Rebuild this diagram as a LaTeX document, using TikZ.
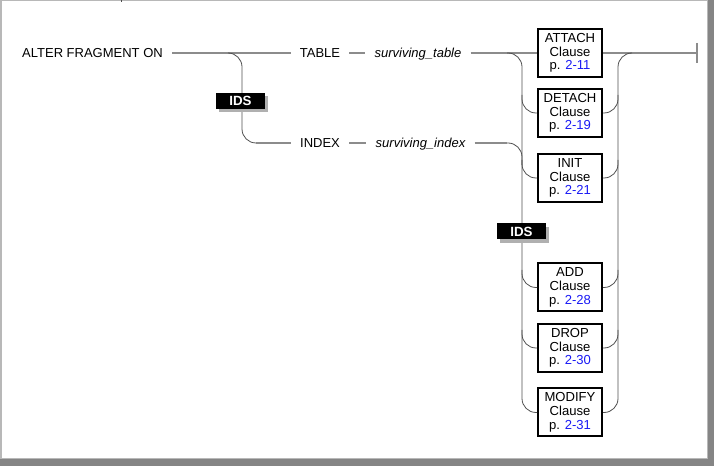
\documentclass[tikz,border=0pt]{standalone}
\usepackage{fontspec}
\setmainfont{Liberation Sans}
\usetikzlibrary{shadows}
\definecolor{lineg}{HTML}{8C8C8C}
\definecolor{curveg}{HTML}{505050}
\definecolor{frameg}{HTML}{858585}
\definecolor{framel}{HTML}{B8B8B8}
\definecolor{linkb}{HTML}{1A1AF5}
\definecolor{shad}{HTML}{B0B0B0}
\begin{document}
\begin{tikzpicture}[x=0.75pt,y=-0.75pt,
 kw/.style={font=\fontsize{9.75pt}{11pt}\selectfont, inner xsep=6.75pt, inner ysep=0pt, text height=7pt, text depth=0pt},
 var/.style={kw, font=\fontsize{9.75pt}{11pt}\selectfont\itshape},
 clause/.style={draw=black, line width=1.5pt, fill=white, minimum width=48pt, minimum height=36pt, inner sep=0pt, align=center, font=\fontsize{9.8pt}{10.3pt}\selectfont},
 hline/.style={draw=lineg, line width=0.9pt},
 branch/.style={draw=curveg, line width=0.6pt, rounded corners=10.5pt},
 ids/.style={fill=black, text=white, font=\fontsize{10pt}{10pt}\selectfont\bfseries, minimum width=36.75pt, minimum height=12pt, inner sep=0pt, drop shadow={shadow xshift=2.4pt, shadow yshift=-2.4pt, fill=shad, opacity=1}}
]
\useasboundingbox (0,0) rectangle (714,466);
% frame
\fill[white] (0,0) rectangle (714,466);
\fill[frameg] (708,0) rectangle (714,466);
\fill[frameg] (0,459) rectangle (714,466);
\draw[framel, line width=1.2pt] (1,0) -- (1,459);
\draw[framel, line width=0.9pt] (0,0.6) -- (708,0.6);
\draw[framel, line width=0.75pt] (707.5,0) -- (707.5,459);
\draw[framel, line width=0.75pt] (0,458.5) -- (708,458.5);
\draw[black!70, line width=0.75pt] (121.5,0) -- (121.5,2.5);

% text nodes
\node[kw] (alter) at (92.5,53) {ALTER FRAGMENT ON};
\node[kw] (table) at (320,53) {TABLE};
\node[var] (stable) at (418,53) {surviving\_table};
\node[kw] (index) at (320,143) {INDEX};
\node[var] (sindex) at (420.5,143) {surviving\_index};

% clause boxes
\node[clause] (attach) at (570,53) {ATTACH\\Clause\\p. \textcolor{linkb}{2-11}};
\node[clause] (detach) at (570,113) {DETACH\\Clause\\p. \textcolor{linkb}{2-19}};
\node[clause] (init) at (570,178) {INIT\\Clause\\p. \textcolor{linkb}{2-21}};
\node[clause] (add) at (570,287.5) {ADD\\Clause\\p. \textcolor{linkb}{2-28}};
\node[clause] (drop) at (570,348) {DROP\\Clause\\p. \textcolor{linkb}{2-30}};
\node[clause] (modify) at (570,412.5) {MODIFY\\Clause\\p. \textcolor{linkb}{2-31}};

% junction coordinates
\coordinate (j1) at (228,53);
\coordinate (v1) at (242,143);
\coordinate (j1b) at (256,143);
\coordinate (j2) at (507,53);
\coordinate (j3) at (507,143);
\coordinate (k1) at (632,53);
\coordinate (endb) at (697,53);

% main lines
\draw[hline] (alter) -- (table);
\draw[hline] (table) -- (stable);
\draw[hline] (stable) -- (attach);
\draw[hline] (attach) -- (endb);
\draw[hline] (endb) ++(0,-10) -- ++(0,20);
\draw[hline] (j1b) -- (index);
\draw[hline] (index) -- (sindex);
\draw[hline] (sindex) -- (j3);

% left branch: TABLE / INDEX
\draw[branch] (j1) -| (v1) -- (j1b);

% left branch column
\draw[branch] (j2) -| (522,412.5) -- (modify.west);
\draw[branch] (j3) -| (522,165);
\draw[branch] (522,95) |- (detach.west);
\draw[branch] (522,160) |- (init.west);
\draw[branch] (522,270) |- (add.west);
\draw[branch] (522,330) |- (drop.west);

% right branch column
\draw[branch] (k1) -| (618,412.5) -- (modify.east);
\draw[branch] (detach.east) -| (618,95);
\draw[branch] (init.east) -| (618,160);
\draw[branch] (add.east) -| (618,270);
\draw[branch] (drop.east) -| (618,330);

% IDS labels
\node[ids] (ids1) at (240.5,101) {IDS};
\node[ids] (ids2) at (521.5,231.5) {IDS};
\end{tikzpicture}
\end{document}
